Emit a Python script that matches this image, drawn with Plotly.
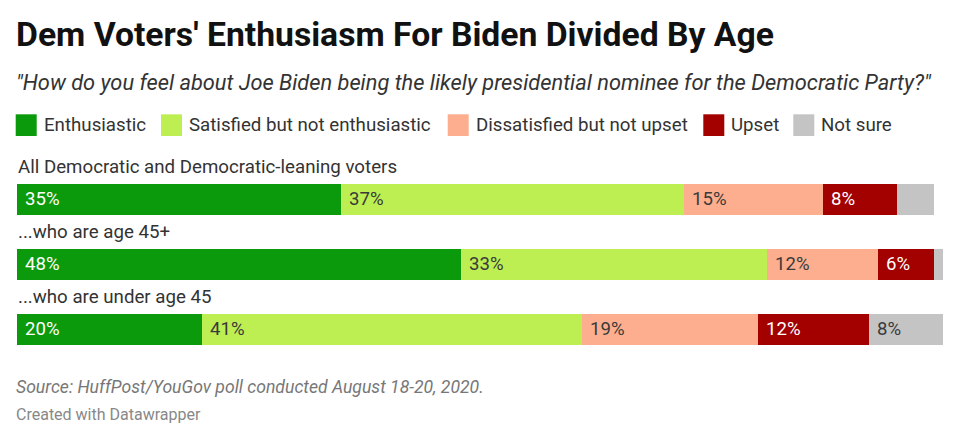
import plotly.graph_objects as go

groups = ["All Democratic and Democratic-leaning voters", "...who are age 45+", "...who are under age 45"]
categories = ["Enthusiastic", "Satisfied but not enthusiastic", "Dissatisfied but not upset", "Upset", "Not sure"]
enthusiastic = [35, 48, 20]
satisfied = [37, 33, 41]
dissatisfied = [15, 12, 19]
upset = [8, 6, 12]
not_sure = [4, 1, 8]

series = [enthusiastic, satisfied, dissatisfied, upset, not_sure]
colors = ["#0b9a0b", "#bdef52", "#fdae8e", "#a30000", "#c4c4c4"]
text_colors = ["#ffffff", "#3a3a3a", "#3a3a3a", "#ffffff", "#3a3a3a"]

title = "Dem Voters' Enthusiasm For Biden Divided By Age"
subtitle = "\"How do you feel about Joe Biden being the likely presidential nominee for the Democratic Party?\""
source = "Source: HuffPost/YouGov poll conducted August 18-20, 2020."
credit = "Created with Datawrapper"

W, H = 960, 441
OFF = 8  # page body margin
FONT = "Roboto"

def px(x):
    return (x - OFF) / W

def py(y):
    return 1 - (y - OFF) / H

fig = go.Figure()
for name, vals, col in zip(categories, series, colors):
    fig.add_trace(go.Bar(
        y=groups, x=vals, name=name, orientation="h",
        marker=dict(color=col, line=dict(width=0)),
        width=0.477, showlegend=False, hoverinfo="x+name",
    ))

annotations = []
for i in range(len(groups)):
    start = 0
    for k, vals in enumerate(series):
        v = vals[i]
        if v >= 5:
            annotations.append(dict(
                x=start, y=i, xref="x", yref="y", text=f"{v}%",
                xanchor="left", yanchor="middle", xshift=6, showarrow=False,
                font=dict(family=FONT, size=18.6, color=text_colors[k]),
            ))
        start += v
    annotations.append(dict(
        x=px(16), y=i - 0.5, xref="paper", yref="y", text=groups[i],
        xanchor="left", yanchor="middle", showarrow=False,
        font=dict(family=FONT, size=18.7, color="#333333"),
    ))

annotations.append(dict(x=px(14), y=py(35), xref="paper", yref="paper", text=title,
                        xanchor="left", yanchor="middle", showarrow=False,
                        font=dict(family=FONT, size=33.7, color="#111111", weight=700)))
annotations.append(dict(x=px(14), y=py(83), xref="paper", yref="paper", text=f"<i>{subtitle}</i>",
                        xanchor="left", yanchor="middle", showarrow=False,
                        font=dict(family=FONT, size=21.8, color="#333333")))
annotations.append(dict(x=px(14), y=py(387), xref="paper", yref="paper", text=f"<i>{source}</i>",
                        xanchor="left", yanchor="middle", showarrow=False,
                        font=dict(family=FONT, size=17.6, color="#777777")))
annotations.append(dict(x=px(14), y=py(414), xref="paper", yref="paper", text=credit,
                        xanchor="left", yanchor="middle", showarrow=False,
                        font=dict(family=FONT, size=16, color="#888888")))

legend_sq_x = [15.7, 161, 447.7, 703.3, 793.3]
shapes = []
for k, name in enumerate(categories):
    x0 = legend_sq_x[k]
    shapes.append(dict(type="rect", xref="paper", yref="paper",
                       x0=px(x0), x1=px(x0 + 21), y0=py(136), y1=py(114.3),
                       fillcolor=colors[k], line=dict(width=0)))
    annotations.append(dict(x=px(x0 + 26), y=py(125), xref="paper", yref="paper", text=name,
                            xanchor="left", yanchor="middle", showarrow=False,
                            font=dict(family=FONT, size=18.7, color="#333333")))

x0_px, x100_px = 17 - OFF, 943 - OFF
unit = (x100_px - x0_px) / 100
row0_px, row_step = 199.3 - OFF, 65

fig.update_layout(
    width=W, height=H, barmode="stack",
    margin=dict(l=0, r=0, t=0, b=0),
    paper_bgcolor="white", plot_bgcolor="white",
    xaxis=dict(range=[-x0_px / unit, (W - x0_px) / unit], visible=False, fixedrange=True),
    yaxis=dict(type="category", range=[(H - row0_px) / row_step, -row0_px / row_step],
               visible=False, fixedrange=True),
    annotations=annotations, shapes=shapes, showlegend=False,
)

fig.write_html("out.html")
